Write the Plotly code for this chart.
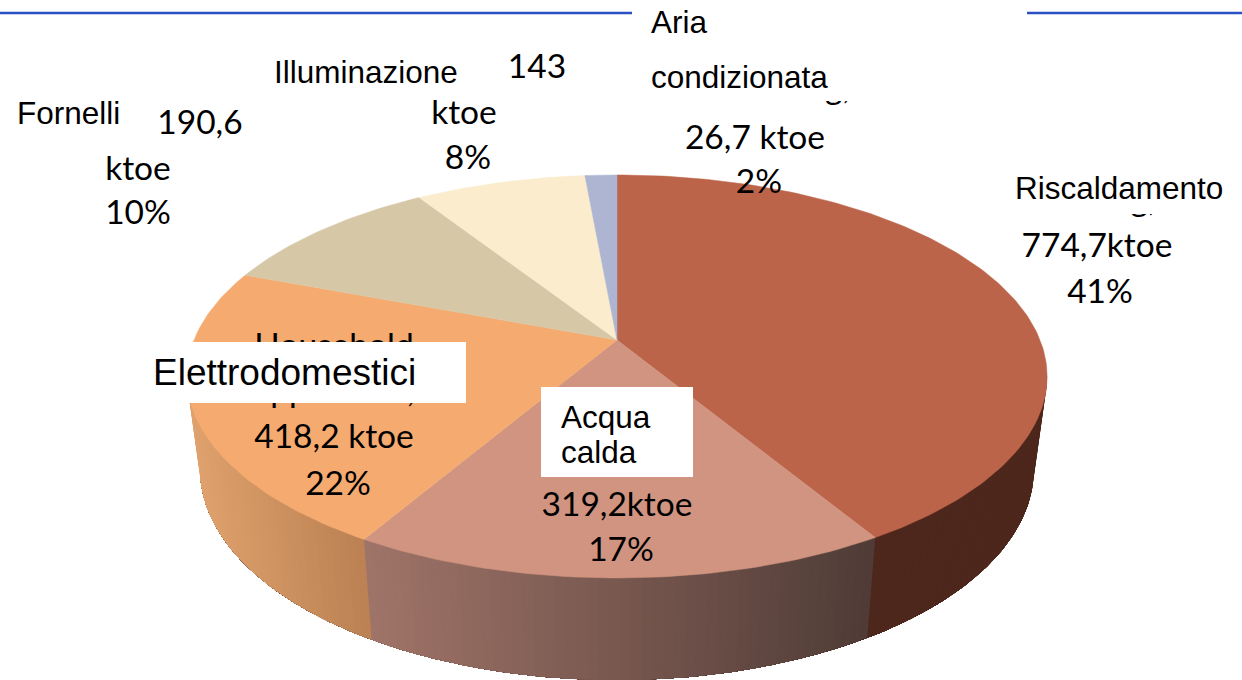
import numpy as np
import plotly.graph_objects as go

# ---- data ----
categories = ["Riscaldamento", "Acqua calda", "Elettrodomestici", "Fornelli", "Illuminazione", "Aria condizionata"]
values_ktoe = [774.7, 319.2, 418.2, 190.6, 143.0, 26.7]
top_colors = ["#BC644A", "#D09480", "#F5AA70", "#D6C8A6", "#FAECCC", "#ADB5D3"]
# side wall shade (left end, right end) for slices that show a wall
wall_shades = {0: ("#4D261C", "#4D261C"), 1: ("#A07468", "#4F3B36"), 2: ("#E0A26E", "#BB8152")}

# text: (string, x, y, family, size, anchor)
CAL = "Lato"
ARI = "Liberation Sans"
SZ = 33.5
AS = 31.5
under_box_text = [
    ("conditioning,", 755, 91, CAL, SZ, "middle center"),
    ("heating,", 1097, 203, CAL, SZ, "middle center"),
    ("Household", 334, 349, CAL, SZ, "middle center"),
    ("appliances,", 334, 394, CAL, SZ, "middle center"),
]
over_box_text = [
    ("Fornelli", 17, 116, ARI, AS, "middle right"),
    ("190,6", 200, 126, CAL, SZ, "middle center"),
    ("ktoe", 138, 172, CAL, SZ, "middle center"),
    ("10%", 138, 216, CAL, SZ, "middle center"),
    ("Illuminazione", 274, 75, ARI, AS, "middle right"),
    ("143", 537, 70, CAL, SZ, "middle center"),
    ("ktoe", 464, 116, CAL, SZ, "middle center"),
    ("8%", 468, 161, CAL, SZ, "middle center"),
    ("Aria", 651, 25, ARI, AS, "middle right"),
    ("condizionata", 651, 80, ARI, AS, "middle right"),
    ("26,7 ktoe", 755, 141, CAL, SZ, "middle center"),
    ("2%", 759, 185, CAL, SZ, "middle center"),
    ("Riscaldamento", 1015, 191, ARI, AS, "middle right"),
    ("774,7ktoe", 1097, 249, CAL, SZ, "middle center"),
    ("41%", 1100, 295, CAL, SZ, "middle center"),
    ("418,2 ktoe", 334, 440, CAL, SZ, "middle center"),
    ("22%", 338, 487, CAL, SZ, "middle center"),
    ("Elettrodomestici", 153, 376, ARI, 37, "middle right"),
    ("Acqua", 561, 420, ARI, AS, "middle right"),
    ("calda", 561, 455, ARI, AS, "middle right"),
    ("319,2ktoe", 617, 508, CAL, SZ, "middle center"),
    ("17%", 621, 553, CAL, SZ, "middle center"),
]
# masking white boxes (x0, x1, y0, y1)
white_boxes = [(145, 466, 342, 403), (541, 693, 387, 477), (632, 1027, 0, 101), (1010, 1242, 165, 214)]

# ---- perspective pie projection ----
CX, CY_TOP, A_TOP, B_TOP = 617, 340, 423, 194.9
CY_BOT, A_BOT, B_BOT = 431, 410, 204
K = 0.181


def project(t, cy, a, b):
    x, z = np.sin(t), np.cos(t)
    w = 1 + K * z
    return CX + a * x / w, cy - b * z / w


def hex2rgb(h):
    return np.array([int(h[i:i + 2], 16) for i in (1, 3, 5)], float)


fig = go.Figure()
fractions = np.cumsum([0] + values_ktoe) / sum(values_ktoe)
edges = fractions * 2 * np.pi
T_R, T_L = np.radians(100.4), np.radians(259.6)

# side walls: painted in order, each band reaching to the far end so no seams show
all_t = np.linspace(T_R, T_L, 161)
for i, (lo, hi) in enumerate(zip(edges[:-1], edges[1:])):
    if i not in wall_shades:
        continue
    a, b = max(lo, T_R), min(hi, T_L)
    ts = np.linspace(a, b, max(3, int((b - a) / np.radians(1.2))))
    xs = project(ts, CY_TOP, A_TOP, B_TOP)[0]
    left, right = map(hex2rgb, wall_shades[i])
    for t0, x0, x1 in zip(ts[:-1], xs[:-1], xs[1:]):
        f = (0.5 * (x0 + x1) - xs.min()) / (xs.max() - xs.min())
        r, g, bl = (left + (right - left) * f).round().astype(int)
        col = f"rgb({r},{g},{bl})"
        seg = np.concatenate([[t0], all_t[all_t > t0]])
        tx, ty = project(seg, CY_TOP, A_TOP, B_TOP)
        bx, by = project(seg[::-1], CY_BOT, A_BOT, B_BOT)
        fig.add_trace(go.Scatter(x=list(tx) + list(bx), y=list(ty) + list(by), mode="lines", fill="toself",
                                 fillcolor=col, line=dict(color=col, width=0), hoverinfo="skip"))

# top face wedges
for i, (lo, hi) in enumerate(zip(edges[:-1], edges[1:])):
    ts = np.linspace(lo, hi, max(8, int((hi - lo) / np.radians(1))))
    tx, ty = project(ts, CY_TOP, A_TOP, B_TOP)
    fig.add_trace(go.Scatter(x=[CX] + list(tx) + [CX], y=[CY_TOP] + list(ty) + [CY_TOP], mode="lines", fill="toself",
                             fillcolor=top_colors[i], line=dict(color=top_colors[i], width=0.5),
                             name=categories[i], hoverinfo="name"))


def add_text(items):
    for s, x, y, fam, size, pos in items:
        fig.add_trace(go.Scatter(x=[x], y=[y], mode="text", text=[s], textposition=pos,
                                 textfont=dict(family=fam, size=size, color="black"), hoverinfo="skip"))


add_text(under_box_text)
for x0, x1, y0, y1 in white_boxes:
    fig.add_trace(go.Scatter(x=[x0, x1, x1, x0, x0], y=[y0, y0, y1, y1, y0], mode="lines", fill="toself",
                             fillcolor="white", line=dict(color="white", width=0), hoverinfo="skip"))
add_text(over_box_text)

# header rule
for xs in ([0, 632], [1027, 1242]):
    fig.add_trace(go.Scatter(x=xs, y=[13, 13], mode="lines", line=dict(color="#2A4FC4", width=2.5), hoverinfo="skip"))

fig.update_layout(width=1242, height=680, margin=dict(l=0, r=0, t=0, b=0), showlegend=False,
                  paper_bgcolor="white", plot_bgcolor="white",
                  xaxis=dict(range=[0, 1242], visible=False, fixedrange=True),
                  yaxis=dict(range=[680, 0], visible=False, fixedrange=True))
fig.write_html("out.html", config={"displayModeBar": False},
               post_script="document.body.style.margin='0';")
